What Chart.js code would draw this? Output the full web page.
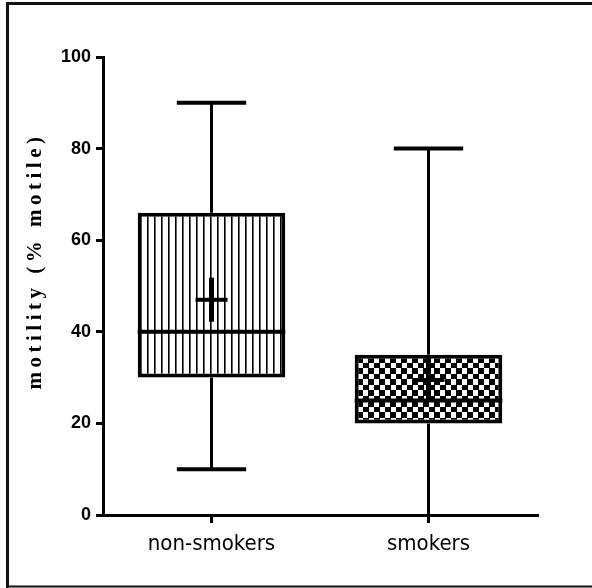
<!DOCTYPE html>
<html>
<head>
<meta charset="utf-8">
<title>motility box plot</title>
<script src="https://cdn.jsdelivr.net/npm/chart.js@4.4.1/dist/chart.umd.min.js"></script>
<style>
  html, body { margin: 0; padding: 0; background: #fff; }
  #chart { display: block; }
</style>
</head>
<body>
<canvas id="chart" width="592" height="588"></canvas>
<script>
// data
var categories = ['non-smokers', 'smokers'];
var mins = [10, 0];
var q1s = [30, 20];
var medians = [40, 25];
var q3s = [66, 35];
var maxs = [90, 80];
var means = [47, 29.5];
var yTicks = [0, 20, 40, 60, 80, 100];
var yTitle = 'motility (% motile)';

// fill patterns for the boxes
function stripePattern() {
  var c = document.createElement('canvas');
  c.width = 7; c.height = 7;
  var g = c.getContext('2d');
  g.fillStyle = '#fff';
  g.fillRect(0, 0, 7, 7);
  g.fillStyle = '#000';
  g.fillRect(0, 0, 1.6, 7);
  return g.createPattern(c, 'repeat');
}
function checkerPattern() {
  var c = document.createElement('canvas');
  c.width = 11; c.height = 11;
  var g = c.getContext('2d');
  g.fillStyle = '#fff';
  g.fillRect(0, 0, 11, 11);
  g.fillStyle = '#000';
  g.fillRect(0, 0, 6, 5);
  g.fillRect(5, 5, 6, 6);
  return g.createPattern(c, 'repeat');
}

// whiskers, median, mean and the outer frame
var boxExtras = {
  id: 'boxExtras',
  afterDatasetsDraw: function(chart) {
    var ctx = chart.ctx;
    var y = chart.scales.y;
    var meta = chart.getDatasetMeta(0);
    ctx.save();
    ctx.strokeStyle = '#000';
    ctx.lineCap = 'butt';
    meta.data.forEach(function(bar, i) {
      var x = bar.x;
      var half = bar.width / 2;
      var cap = bar.width * 0.235;
      // whiskers
      ctx.lineWidth = 3;
      ctx.beginPath();
      ctx.moveTo(x, y.getPixelForValue(q3s[i]));
      ctx.lineTo(x, y.getPixelForValue(maxs[i]));
      ctx.moveTo(x, y.getPixelForValue(q1s[i]));
      ctx.lineTo(x, y.getPixelForValue(mins[i]));
      ctx.stroke();
      // caps
      ctx.lineWidth = 4;
      ctx.beginPath();
      ctx.moveTo(x - cap, y.getPixelForValue(maxs[i]));
      ctx.lineTo(x + cap, y.getPixelForValue(maxs[i]));
      if (mins[i] > y.min) {
        ctx.moveTo(x - cap, y.getPixelForValue(mins[i]));
        ctx.lineTo(x + cap, y.getPixelForValue(mins[i]));
      }
      ctx.stroke();
      // median
      ctx.beginPath();
      ctx.moveTo(x - half, y.getPixelForValue(medians[i]));
      ctx.lineTo(x + half, y.getPixelForValue(medians[i]));
      ctx.stroke();
      // mean cross
      var my = y.getPixelForValue(means[i]);
      ctx.lineWidth = 4;
      ctx.beginPath();
      ctx.moveTo(x - 16, my);
      ctx.lineTo(x + 16, my);
      ctx.stroke();
      ctx.lineWidth = 5;
      ctx.beginPath();
      ctx.moveTo(x, my - 22);
      ctx.lineTo(x, my + 22);
      ctx.stroke();
    });
    ctx.restore();
  },
  afterDraw: function(chart) {
    var ctx = chart.ctx;
    ctx.save();
    // y title, rotated with wide letter spacing
    ctx.fillStyle = '#000';
    ctx.font = 'bold 21px "Liberation Serif", serif';
    ctx.letterSpacing = '4.5px';
    ctx.textAlign = 'center';
    ctx.textBaseline = 'middle';
    ctx.translate(36, 261);
    ctx.rotate(-Math.PI / 2);
    ctx.fillText(yTitle, 0, 0);
    ctx.restore();
    // frame round the picture
    ctx.save();
    ctx.strokeStyle = '#111';
    ctx.lineWidth = 3;
    ctx.beginPath();
    ctx.moveTo(7.5, 588);
    ctx.lineTo(7.5, 3.5);
    ctx.lineTo(592, 3.5);
    ctx.stroke();
    ctx.lineWidth = 2;
    ctx.beginPath();
    ctx.moveTo(6, 586.5);
    ctx.lineTo(592, 586.5);
    ctx.stroke();
    ctx.restore();
  }
};

var ctx = document.getElementById('chart').getContext('2d');
new Chart(ctx, {
  type: 'bar',
  data: {
    labels: categories,
    datasets: [{
      data: categories.map(function(c, i) { return [q1s[i], q3s[i]]; }),
      backgroundColor: [stripePattern(), checkerPattern()],
      borderColor: '#000',
      borderWidth: 4,
      borderSkipped: false,
      barPercentage: 0.68,
      categoryPercentage: 1
    }]
  },
  options: {
    responsive: false,
    animation: false,
    layout: { padding: { left: 0, top: 57, right: 55, bottom: 0 } },
    plugins: { legend: { display: false }, tooltip: { enabled: false } },
    scales: {
      x: {
        offset: true,
        afterFit: function(s) { s.height = 73; },
        border: { display: true, color: '#000', width: 3 },
        grid: { offset: false, drawOnChartArea: false, drawTicks: true, tickLength: 8, color: '#000', lineWidth: 3 },
        ticks: { color: '#000', padding: 8, font: { family: '"DejaVu Sans Condensed", "DejaVu Sans"', size: 22 } }
      },
      y: {
        min: 0,
        max: 100,
        afterFit: function(s) { s.width = 103; },
        afterBuildTicks: function(s) { s.ticks = yTicks.map(function(v) { return { value: v }; }); },
        border: { display: true, color: '#000', width: 3 },
        grid: { drawOnChartArea: false, drawTicks: true, tickLength: 7, color: '#000', lineWidth: 3 },
        ticks: { color: '#000', padding: 5, font: { family: '"Liberation Sans", Arial', size: 18, weight: 'bold' } }
      }
    }
  },
  plugins: [boxExtras]
});
</script>
</body>
</html>
